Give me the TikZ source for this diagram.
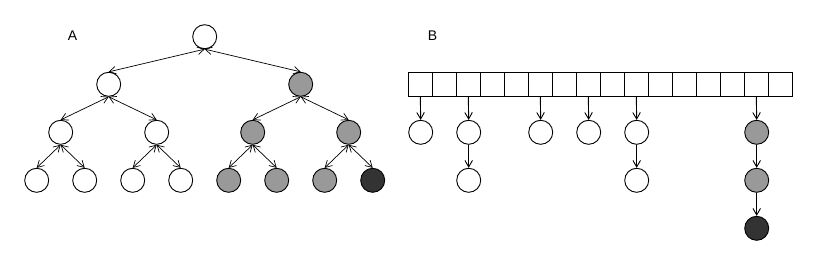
\documentclass[tikz,border=0pt]{standalone}
\usepackage{fontspec}
\setmainfont{Liberation Sans}
\usetikzlibrary{arrows.meta, positioning}

\begin{document}
\begin{tikzpicture}[
    x=1pt, y=-1pt,
    >={Straight Barb[length=6.5pt, width=7.5pt]},
    font=\fontsize{14}{16}\selectfont,
    key/.style={circle, draw, line width=0.9pt, minimum size=24pt, inner sep=0pt, fill=white},
    hit/.style={key, fill=black!40},
    found/.style={key, fill=black!80},
    cell/.style={rectangle, draw, line width=0.9pt, minimum width=24pt, minimum height=24.4pt, inner sep=0pt},
    link/.style={<->, line width=0.7pt},
    chain/.style={->, line width=0.9pt}
]
\useasboundingbox (0,0) rectangle (816,252);

% A: binary search tree
\node (labelA) at (72.5,35.5) {A};
\node[key] (t1) at (204.7,36.7) {};
\node[key] (t2) at (108.7,84.3) {};
\node[hit] (t3) at (300.7,84.3) {};
\node[key] (t4) at (60.7,132.3) {};
\node[key] (t5) at (156.7,132.3) {};
\node[hit] (t6) at (252.7,132.3) {};
\node[hit] (t7) at (348.7,132.3) {};
\node[key] (t8) at (36.7,180.3) {};
\node[key] (t9) at (84.7,180.3) {};
\node[key] (t10) at (132.7,180.3) {};
\node[key] (t11) at (180.7,180.3) {};
\node[hit] (t12) at (228.7,180.3) {};
\node[hit] (t13) at (276.7,180.3) {};
\node[hit] (t14) at (324.7,180.3) {};
\node[found] (t15) at (372.7,180.3) {};
\draw[link] (t1.south) -- (t2.north);
\draw[link] (t1.south) -- (t3.north);
\draw[link] (t2.south) -- (t4.north);
\draw[link] (t2.south) -- (t5.north);
\draw[link] (t3.south) -- (t6.north);
\draw[link] (t3.south) -- (t7.north);
\draw[link] (t4.south) -- (t8.north);
\draw[link] (t4.south) -- (t9.north);
\draw[link] (t5.south) -- (t10.north);
\draw[link] (t5.south) -- (t11.north);
\draw[link] (t6.south) -- (t12.north);
\draw[link] (t6.south) -- (t13.north);
\draw[link] (t7.south) -- (t14.north);
\draw[link] (t7.south) -- (t15.north);

% B: hash table with chaining
\node (labelB) at (432.5,35.5) {B};
\foreach \i in {0,...,15}
    \node[cell] (cell\i) at (420.3+24*\i,84.5) {};
\node[key] (h0) at (420.7,132.3) {};
\node[key] (h2) at (468.7,132.3) {};
\node[key] (h2b) at (468.7,180.3) {};
\node[key] (h5) at (540.7,132.3) {};
\node[key] (h7) at (588.7,132.3) {};
\node[key] (h9) at (636.7,132.3) {};
\node[key] (h9b) at (636.7,180.3) {};
\node[hit] (h14) at (756.7,132.3) {};
\node[hit] (h14b) at (756.7,180.3) {};
\node[found] (h14c) at (756.7,228.3) {};
\draw[chain] (cell0.south) -- (h0.north);
\draw[chain] (cell2.south) -- (h2.north);
\draw[chain] (h2) -- (h2b);
\draw[chain] (cell5.south) -- (h5.north);
\draw[chain] (cell7.south) -- (h7.north);
\draw[chain] (cell9.south) -- (h9.north);
\draw[chain] (h9) -- (h9b);
\draw[chain] (cell14.south) -- (h14.north);
\draw[chain] (h14) -- (h14b);
\draw[chain] (h14b) -- (h14c);
\end{tikzpicture}
\end{document}
